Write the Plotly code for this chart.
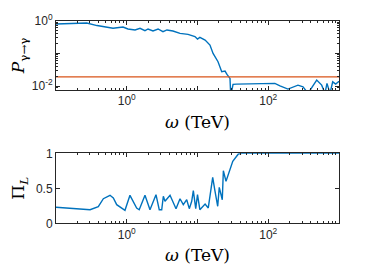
import numpy as np
import plotly.graph_objects as go

# top panel: photon survival probability
omega_top = [0.1, 0.218, 0.272, 0.38, 0.46, 0.64, 0.885, 1.04, 1.31, 1.54, 1.81, 2.0, 2.35, 2.77,
             3.25, 3.7, 4.5, 5.66, 7.35, 9.2, 10.0, 10.8, 12.8, 15.0, 16.6, 19.5, 22.0, 24.5,
             26.1, 28.8, 29.5, 31.8, 35.8, 55.2, 124, 146.5, 190, 263, 310, 365, 484, 569,
             634, 676, 746, 815, 898, 984, 1000]
P_top = [0.79, 0.83, 0.85, 0.71, 0.65, 0.585, 0.64, 0.557, 0.52, 0.585, 0.494, 0.557, 0.484, 0.557,
         0.46, 0.52, 0.484, 0.41, 0.383, 0.328, 0.275, 0.31, 0.256, 0.18, 0.1, 0.0555, 0.0274, 0.0288,
         0.0228, 0.0172, 0.005, 0.0113, 0.0115, 0.0115, 0.0121, 0.0102, 0.0081, 0.0107, 0.0095, 0.006, 0.0153, 0.0107,
         0.006, 0.0121, 0.006, 0.0135, 0.0115, 0.0135, 0.0135]
threshold = 0.0191

# bottom panel: linear polarization
omega_bot = [0.1, 0.198, 0.303, 0.396, 0.467, 0.58, 0.646, 0.721, 0.944, 1.11, 1.38, 1.50, 1.81, 2.13,
             2.59, 2.88, 3.12, 3.29, 3.47, 4.09, 4.97, 5.66, 6.30, 7.04, 7.66, 8.28, 8.73, 9.44,
             10.0, 10.8, 12.8, 14.2, 16.4, 17.7, 19.3, 20.3, 22.4, 23.2, 25.3, 31.5, 37.8, 42.2,
             100, 300, 1000]
Pi_L = [0.229, 0.204, 0.194, 0.237, 0.351, 0.40, 0.361, 0.266, 0.186, 0.40, 0.219, 0.194, 0.40, 0.194,
        0.409, 0.194, 0.194, 0.386, 0.314, 0.40, 0.209, 0.351, 0.266, 0.337, 0.209, 0.314, 0.466, 0.209,
        0.409, 0.194, 0.276, 0.219, 0.657, 0.457, 0.243, 0.514, 0.337, 0.751, 0.60, 0.886, 0.99, 1.0,
        1.0, 1.0, 1.0]

x_major = [0.1, 1, 10, 100, 1000]
x_labels = ["", "10<sup>0</sup>", "", "10<sup>2</sup>", ""]

BLUE = "#0072BD"
ORANGE = "#D95319"
TICKFONT = dict(family="Liberation Sans, Arial", size=12, color="#262626")
TITLEFONT = dict(family="DejaVu Serif, Liberation Serif, serif", size=17, color="#000000")

fig = go.Figure()
fig.add_trace(go.Scatter(x=omega_top, y=P_top, mode="lines", line=dict(color=BLUE, width=1.4),
                         xaxis="x", yaxis="y", showlegend=False))
fig.add_trace(go.Scatter(x=[0.1, 1000], y=[threshold, threshold], mode="lines",
                         line=dict(color=ORANGE, width=1.4), xaxis="x", yaxis="y", showlegend=False))
fig.add_trace(go.Scatter(x=omega_bot, y=Pi_L, mode="lines", line=dict(color=BLUE, width=1.4),
                         xaxis="x2", yaxis="y2", showlegend=False))

minor_x = [m * 10 ** e for e in range(-1, 3) for m in range(2, 10)]
minor_y = [m * 10 ** e for e in range(-3, 0) for m in range(2, 10)]

common_x = dict(type="log", range=[-1, 3], tickmode="array", tickvals=x_major, ticktext=x_labels,
                ticks="inside", ticklen=4, tickcolor="#262626", showline=True, linecolor="#262626",
                linewidth=1, mirror="allticks", showgrid=False, zeroline=False, tickfont=TICKFONT,
                automargin=False,
                minor=dict(tickmode="array", tickvals=minor_x, ticks="inside", ticklen=2,
                           tickcolor="#262626", showgrid=False),
                domain=[56 / 374, 339 / 374])

fig.update_layout(
    template="none",
    width=374, height=280, margin=dict(l=0, r=0, t=0, b=0),
    paper_bgcolor="white", plot_bgcolor="white",
    xaxis=dict(common_x, anchor="y",
               title=dict(text="<i>ω</i> (TeV)", font=TITLEFONT, standoff=8)),
    yaxis=dict(type="log", range=[-2.12, 0], domain=[1 - 90 / 280, 1 - 20.7 / 280],
               tickmode="array", tickvals=[0.01, 0.1, 1],
               ticktext=["10<sup>-2</sup>", "", "10<sup>0</sup>"],
               ticks="inside", ticklen=4, tickcolor="#262626", showline=True, linecolor="#262626",
               linewidth=1, mirror="allticks", showgrid=False, zeroline=False, tickfont=TICKFONT,
               automargin=False,
               minor=dict(tickmode="array", tickvals=minor_y, ticks="inside", ticklen=2,
                          tickcolor="#262626", showgrid=False),
               anchor="x",
               title=dict(text="<i>P</i><sub>γ→γ</sub>", font=TITLEFONT, standoff=2)),
    xaxis2=dict(common_x, anchor="y2",
                title=dict(text="<i>ω</i> (TeV)", font=TITLEFONT, standoff=8)),
    yaxis2=dict(range=[0, 1], domain=[1 - 223.3 / 280, 1 - 153.3 / 280],
                tickmode="array", tickvals=[0, 0.5, 1], ticktext=["0", "0.5", "1"],
                ticks="inside", ticklen=4, tickcolor="#262626", showline=True, linecolor="#262626",
                linewidth=1, mirror="allticks", showgrid=False, zeroline=False, tickfont=TICKFONT,
                automargin=False,
                anchor="x2",
                title=dict(text="Π<sub><i>L</i></sub>", font=TITLEFONT, standoff=6)),
)

fig.write_html("out.html", config={"displayModeBar": False},
               post_script="document.body.style.margin='0';document.body.style.padding='0';")
